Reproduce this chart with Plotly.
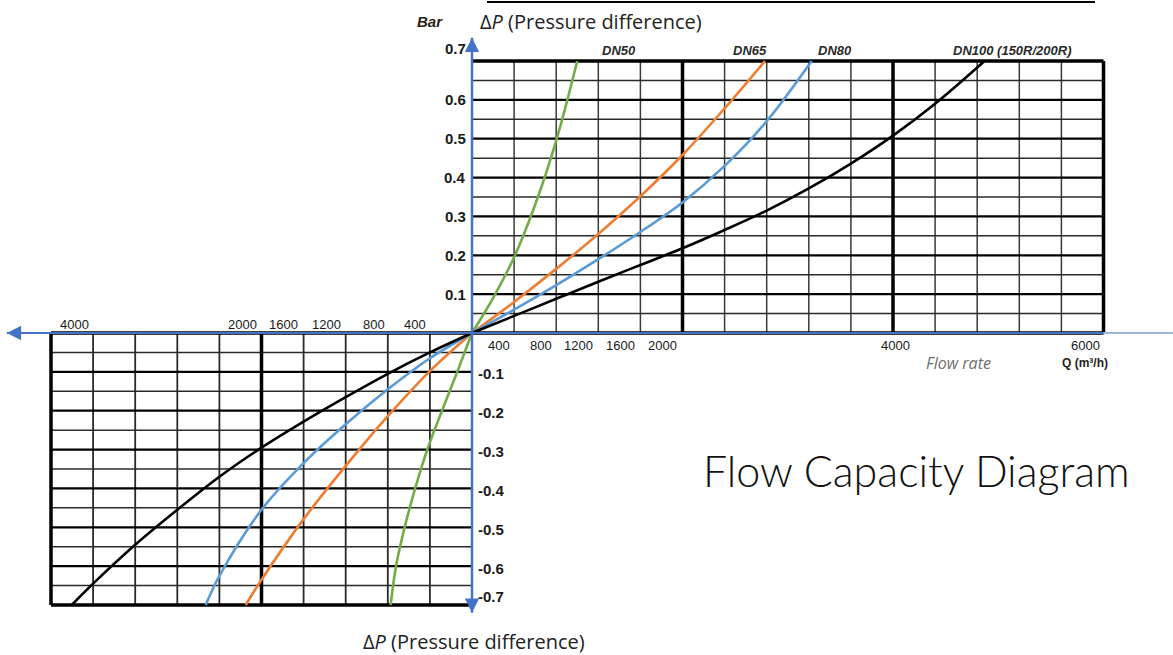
import plotly.graph_objects as go

# ---------------- data ----------------
series_names = ["DN50", "DN65", "DN80", "DN100 (150R/200R)"]
series_colors = ["#70AD47", "#ED7D31", "#5B9BD5", "#000000"]

# upper-right quadrant: flow rate Q (m3/h) vs pressure difference (bar)
q_dn50_up = [0, 200, 400, 600, 800, 1000]
p_dn50_up = [0, 0.09, 0.195, 0.33, 0.495, 0.7]
q_dn65_up = [0, 400, 800, 1200, 1600, 2000, 2400, 2784]
p_dn65_up = [0, 0.08, 0.165, 0.255, 0.352, 0.458, 0.578, 0.7]
q_dn80_up = [0, 400, 800, 1200, 1600, 2000, 2400, 2800, 3227]
p_dn80_up = [0, 0.06, 0.123, 0.19, 0.26, 0.336, 0.43, 0.545, 0.7]
q_dn100_up = [0, 400, 800, 1200, 1600, 2000, 2400, 2800, 3200, 3600, 4000, 4400, 4870]
p_dn100_up = [0, 0.044, 0.088, 0.132, 0.175, 0.218, 0.265, 0.315, 0.372, 0.436, 0.508, 0.59, 0.7]

# lower-left quadrant (reverse flow)
q_dn50_lo = [0, -140, -285, -425, -540, -640, -722, -773]
p_dn50_lo = [0, -0.1, -0.2, -0.3, -0.4, -0.5, -0.6, -0.7]
q_dn65_lo = [0, -400, -800, -1200, -1600, -2000, -2150]
p_dn65_lo = [0, -0.098, -0.214, -0.342, -0.479, -0.635, -0.7]
q_dn80_lo = [0, -400, -800, -1200, -1600, -2000, -2400, -2530]
p_dn80_lo = [0, -0.065, -0.145, -0.235, -0.335, -0.455, -0.625, -0.7]
q_dn100_lo = [0, -400, -800, -1200, -1600, -2000, -2400, -2800, -3200, -3600, -3803]
p_dn100_lo = [0, -0.05, -0.105, -0.165, -0.228, -0.295, -0.37, -0.455, -0.545, -0.645, -0.7]

up_grid_q = [400, 800, 1200, 1600, 2400, 2800, 3200, 3600, 4400, 4800, 5200, 5600]
up_grid_q_thick = [2000, 4000]
lo_grid_q = [-400, -800, -1200, -1600, -2400, -2800, -3200, -3600]
lo_grid_q_thick = [-2000]
grid_p_minor = [0.05, 0.15, 0.25, 0.35, 0.45, 0.55, 0.65]
grid_p_major = [0.1, 0.2, 0.3, 0.4, 0.5, 0.6]

up_q_ticks = [400, 800, 1200, 1600, 2000, 4000, 6000]
up_q_tick_labels = ["400", "800", "1200", "1600", "2000", "4000", "6000"]
lo_q_ticks = [-400, -800, -1200, -1600, -2000, -4000]
lo_q_tick_labels = ["400", "800", "1200", "1600", "2000", "4000"]
up_p_ticks = [0.1, 0.2, 0.3, 0.4, 0.5, 0.6, 0.7]
lo_p_ticks = [-0.1, -0.2, -0.3, -0.4, -0.5, -0.6, -0.7]

Q_MAX, Q_MIN, P_MAX = 6000, -4000, 0.7

# ---------------- figure ----------------
fig = go.Figure()

curves = [
    (q_dn50_up, p_dn50_up, q_dn50_lo, p_dn50_lo),
    (q_dn65_up, p_dn65_up, q_dn65_lo, p_dn65_lo),
    (q_dn80_up, p_dn80_up, q_dn80_lo, p_dn80_lo),
    (q_dn100_up, p_dn100_up, q_dn100_lo, p_dn100_lo),
]
for name, col, (qu, pu, ql, pl) in zip(series_names, series_colors, curves):
    for qq, pp in ((qu, pu), (ql, pl)):
        fig.add_trace(go.Scatter(x=qq, y=pp, mode="lines", name=name,
                                 line=dict(color=col, width=2.6, shape="spline", smoothing=1.0),
                                 showlegend=False, hoverinfo="skip"))

shapes = []

def line(x0, y0, x1, y1, color, width, layer="below"):
    shapes.append(dict(type="line", xref="x", yref="y", x0=x0, y0=y0, x1=x1, y1=y1,
                       line=dict(color=color, width=width), layer=layer))

# upper-right grid
for q in up_grid_q:
    line(q, 0, q, P_MAX, "#3a3a3a", 1.5)
for p in grid_p_minor:
    line(0, p, Q_MAX, p, "#2a2a2a", 1.5)
for p in grid_p_major:
    line(0, p, Q_MAX, p, "#000000", 2.2)
for q in up_grid_q_thick:
    line(q, 0, q, P_MAX, "#000000", 3.5)
line(0, P_MAX, Q_MAX, P_MAX, "#000000", 3.5)
line(Q_MAX, 0, Q_MAX, P_MAX, "#000000", 3.5)
line(0, 0, Q_MAX, 0, "#000000", 3.5)

# lower-left grid
for q in lo_grid_q:
    line(q, 0, q, -P_MAX, "#2a2a2a", 1.8)
for p in grid_p_minor:
    line(0, -p, Q_MIN, -p, "#2a2a2a", 1.5)
for p in grid_p_major:
    line(0, -p, Q_MIN, -p, "#000000", 2.2)
for q in lo_grid_q_thick:
    line(q, 0, q, -P_MAX, "#000000", 3.5)
line(Q_MIN, -P_MAX, 0, -P_MAX, "#000000", 3.5)
line(Q_MIN, 0, Q_MIN, -P_MAX, "#000000", 3.5)
line(Q_MIN, 0, 0, 0, "#000000", 3.5)

# blue axes
AX = "#4472C4"
line(-4420, 0, 6000, 0, AX, 2, layer="above")
line(6000, 0, 6660, 0, "#9fb4de", 2, layer="above")
line(0, -0.72, 0, 0.76, AX, 2.5, layer="above")

# top rule
shapes.append(dict(type="line", xref="paper", yref="paper", x0=487 / 1173, x1=1095 / 1173,
                   y0=1 - 2 / 655, y1=1 - 2 / 655, line=dict(color="#000000", width=2)))

annotations = []

def txt(x, y, text, size, xanchor="center", yanchor="middle", xshift=0, yshift=0,
        family="Liberation Sans", color="#1a1a1a", xref="x", yref="y", weight=None):
    font = dict(size=size, family=family, color=color)
    if weight is not None:
        font["weight"] = weight
    annotations.append(dict(x=x, y=y, xref=xref, yref=yref, text=text, showarrow=False,
                            xanchor=xanchor, yanchor=yanchor, xshift=xshift, yshift=yshift,
                            font=font))

# arrowheads
for (x, y, ax, ay) in [(-4420, 0, 14, 0), (0, 0.76, 0, 10), (0, -0.72, 0, -10)]:
    annotations.append(dict(x=x, y=y, xref="x", yref="y", ax=ax, ay=ay, axref="pixel",
                            ayref="pixel", text="", showarrow=True, arrowhead=2,
                            arrowsize=1.3, arrowwidth=2.2, arrowcolor=AX, standoff=0))

# upper x tick labels
up_shift = [-15, -15, -20, -20, -20, 2, -18]
for q, lab, s in zip(up_q_ticks, up_q_tick_labels, up_shift):
    txt(q, 0, lab, 13, xshift=s, yshift=-12)
# lower x tick labels
lo_shift = [-15, -14, -19, -20, -19, 23]
for q, lab, s in zip(lo_q_ticks, lo_q_tick_labels, lo_shift):
    txt(q, 0, lab, 13, xshift=s, yshift=9)

# y tick labels
for p in up_p_ticks:
    txt(0, p, "<b>%.1f</b>" % p, 15, xanchor="right", xshift=-4,
        yshift=12 if p == 0.7 else 0)
for p in lo_p_ticks:
    txt(0, p, "<b>%.1f</b>" % p, 15, xanchor="left", xshift=4,
        yshift=9 if p == -0.7 else -2)

# series labels
label_pos = [(619, 50), (750, 51), (835, 51), (1012, 51)]
for name, (px, py) in zip(series_names, label_pos):
    txt(px / 1173, 1 - py / 655, "<b><i>%s</i></b>" % name, 13, xref="paper", yref="paper",
        color="#2a2a2a")

# axis titles and other text
txt(430 / 1173, 1 - 21 / 655, "<b><i>Bar</i></b>", 15, xref="paper", yref="paper", color="#2b2118")
txt(591 / 1173, 1 - 21 / 655, "Δ<i>P</i> (Pressure difference)", 20, xref="paper", yref="paper",
    family="Open Sans", color="#222222")
txt(474 / 1173, 0, "Δ<i>P</i> (Pressure difference)", 20, xref="paper", yref="paper",
    yanchor="bottom", yshift=-2, family="Open Sans", color="#222222")
txt(958 / 1173, 1 - 363 / 655, "<i>Flow rate</i>", 16, xref="paper", yref="paper",
    family="Open Sans", color="#6f6f6f")
txt(1085 / 1173, 1 - 363 / 655, "<b>Q (m³/h)</b>", 12, xref="paper", yref="paper",
    color="#222222")
txt(917 / 1173, 1 - 470 / 655, "Flow Capacity Diagram", 43, xref="paper", yref="paper",
    family="Lato", color="#111111", weight=300)

# pixel mapping: Q=0 at x=472px, 421px per 4000; P=0 at y=333px, 388.6px per bar
QS = 421 / 4000
PS = 388.6
x_range = [-472 / QS, (1173 - 472) / QS]
y_range = [-(655 - 333) / PS, 333 / PS]

fig.update_layout(
    width=1173, height=655,
    margin=dict(l=0, r=0, t=0, b=0),
    paper_bgcolor="white", plot_bgcolor="white",
    xaxis=dict(range=x_range, visible=False, fixedrange=True),
    yaxis=dict(range=y_range, visible=False, fixedrange=True),
    shapes=shapes, annotations=annotations,
    showlegend=False,
)

fig.write_html("out.html", post_script="document.body.style.margin='0px';",
               config={"displayModeBar": False})
